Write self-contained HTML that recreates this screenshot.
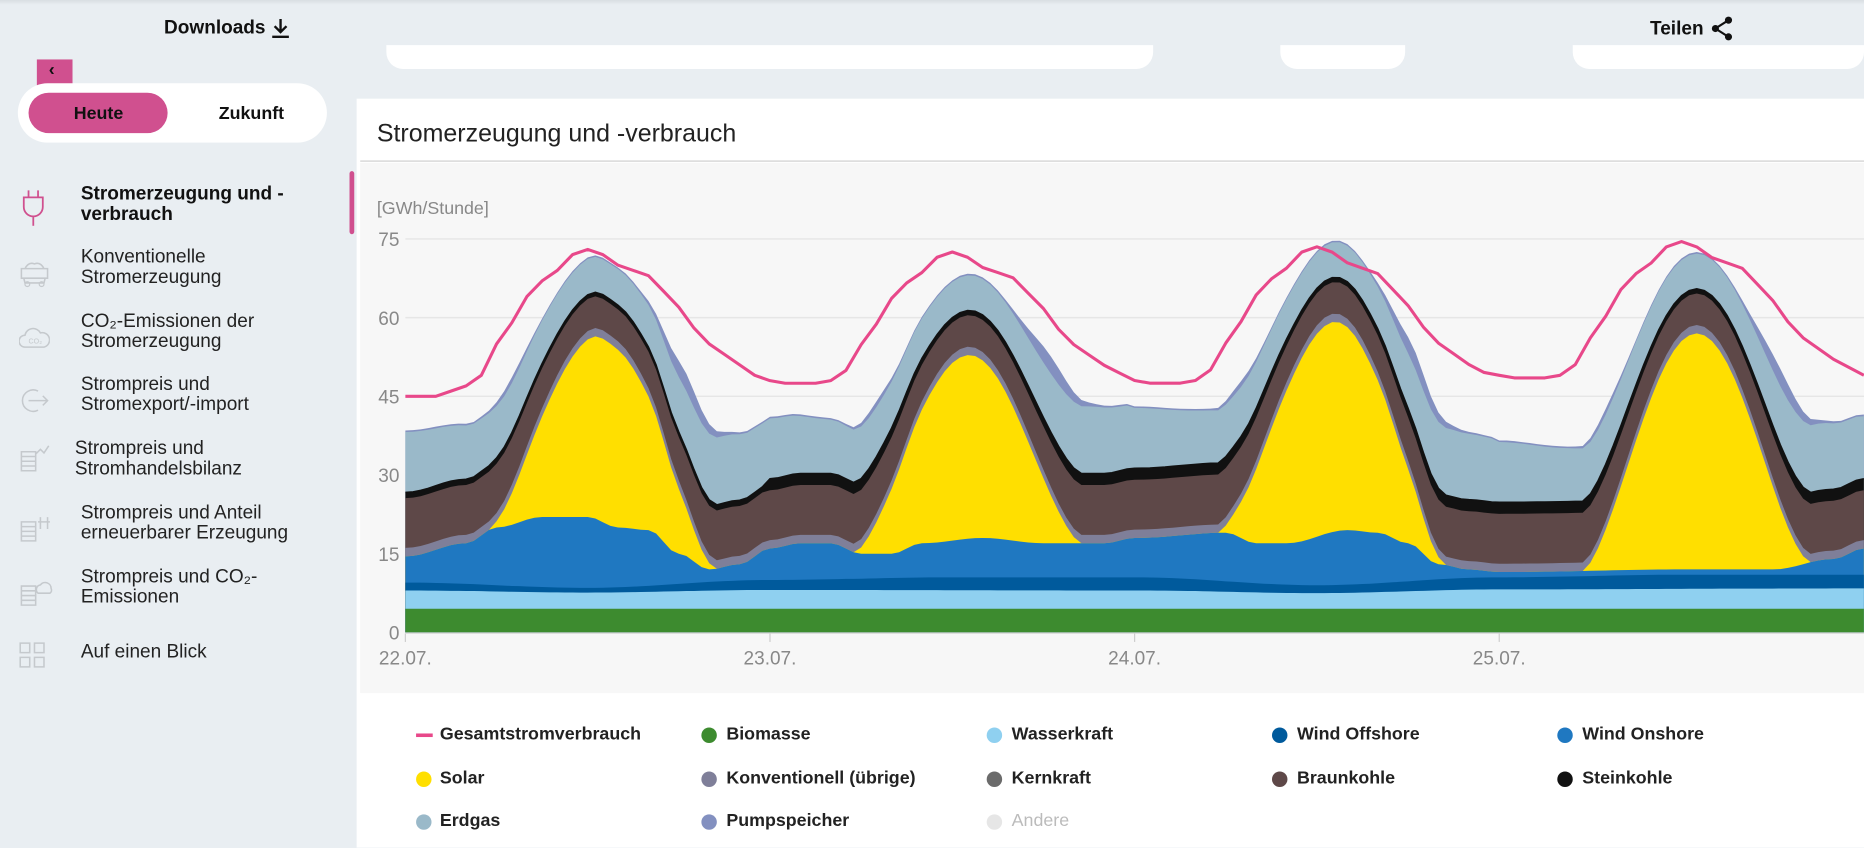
<!DOCTYPE html>
<html><head><meta charset="utf-8">
<style>
html,body{margin:0;padding:0;width:1864px;height:848px;overflow:hidden;background:#e9eef2;}
#wrap{position:absolute;left:0;top:0;width:1568px;height:713px;transform:scale(1.18878);transform-origin:0 0;font-family:"Liberation Sans Narrow","Liberation Sans",sans-serif;color:#111;}
.abs{position:absolute;}
.menu{position:absolute;left:68px;font-size:16px;line-height:17px;color:#222;}
.menu.b{font-weight:bold;color:#111;}
.leg{position:absolute;font-size:15px;font-weight:bold;color:#222;}
.dot{position:absolute;width:13px;height:13px;border-radius:50%;}
</style></head><body>
<div id="wrap">
  <div class="abs" style="left:0;top:0;width:1568px;height:4px;background:linear-gradient(#d9dee2,#e9eef2)"></div>
  <div class="abs" style="left:138px;top:15px;font-size:16px;font-weight:bold;">Downloads</div>
  <svg class="abs" style="left:226px;top:14px" width="20" height="20" viewBox="0 0 20 20"><path d="M10 2v11M5 8l5 5 5-5M3 17h14" stroke="#111" stroke-width="2" fill="none"/></svg>
  <div class="abs" style="left:1388px;top:16px;font-size:16px;font-weight:bold;">Teilen</div>
  <svg class="abs" style="left:1438px;top:13px" width="22" height="22" viewBox="0 0 22 22"><circle cx="16" cy="4" r="3" fill="#111"/><circle cx="5" cy="11" r="3" fill="#111"/><circle cx="16" cy="18" r="3" fill="#111"/><path d="M16 4L5 11L16 18" stroke="#111" stroke-width="1.8" fill="none"/></svg>

  <div class="abs" style="left:325px;top:38px;width:645px;height:20px;background:#fff;border-radius:0 0 14px 14px"></div>
  <div class="abs" style="left:1077px;top:38px;width:105px;height:20px;background:#fff;border-radius:0 0 14px 14px"></div>
  <div class="abs" style="left:1323px;top:38px;width:245px;height:20px;background:#fff;border-radius:0 0 14px 14px"></div>

  <div class="abs" style="left:31px;top:50px;width:30px;height:32px;background:#d0508f"></div>
  <div class="abs" style="left:41px;top:50px;font-size:15px;font-weight:bold">‹</div>
  <div class="abs" style="left:15px;top:70px;width:260px;height:50px;background:#fff;border-radius:25px"></div>
  <div class="abs" style="left:24px;top:78px;width:117px;height:34px;background:#d0508f;border-radius:17px"></div>
  <div class="abs" style="left:62px;top:87px;font-size:15px;font-weight:bold">Heute</div>
  <div class="abs" style="left:184px;top:87px;font-size:15px;font-weight:bold">Zukunft</div>

  <div class="abs" style="left:294px;top:144px;width:4px;height:53px;background:#d0508f;border-radius:2px"></div>
  <svg class="abs" style="left:17px;top:160px" width="22" height="30" viewBox="0 0 22 30"><path d="M7 0v6M15 0v6M3 6h16v8a8 8 0 0 1-16 0zM11 22v8" stroke="#d0508f" stroke-width="1.5" fill="none"/></svg>
  <div class="menu b" style="top:155px">Stromerzeugung und -<br>verbrauch</div>
  <svg class="abs" style="left:16px;top:218px" width="26" height="24"><path d="M2 8h22v8H2zM4 16h18l-1 4H5zM5 8q3-6 8-4q5-2 8 4" stroke="#c5c9cd" stroke-width="1.3" fill="none"/><circle cx="7" cy="21" r="2" stroke="#c5c9cd" fill="none"/><circle cx="19" cy="21" r="2" stroke="#c5c9cd" fill="none"/></svg>
  <div class="menu" style="top:208px">Konventionelle<br>Stromerzeugung</div>
  <svg class="abs" style="left:16px;top:274px" width="26" height="20"><path d="M5 18a5 5 0 0 1 0-10a7 7 0 0 1 13-2a6 6 0 0 1 3 12z" stroke="#c5c9cd" stroke-width="1.3" fill="none"/><text x="8" y="15" font-size="6" fill="#c5c9cd">CO₂</text></svg>
  <div class="menu" style="top:262px">CO₂-Emissionen der<br>Stromerzeugung</div>
  <svg class="abs" style="left:16px;top:326px" width="26" height="22"><path d="M16 3a9 9 0 1 0 0 16M8 11h16M20 7l4 4-4 4" stroke="#c5c9cd" stroke-width="1.3" fill="none"/></svg>
  <div class="menu" style="top:315px">Strompreis und<br>Stromexport/-import</div>
  <svg class="abs" style="left:16px;top:372px" width="30" height="26"><path d="M2 8h12v16H2zM2 12h12M2 16h12M2 20h12M14 10l4-4 3 3 4-6" stroke="#c5c9cd" stroke-width="1.3" fill="none"/></svg>
  <div class="menu" style="top:369px;left:63px">Strompreis und<br>Stromhandelsbilanz</div>
  <svg class="abs" style="left:16px;top:431px" width="30" height="26"><path d="M2 8h12v16H2zM2 12h12M2 16h12M2 20h12M18 4v10M24 4v10M16 8h10" stroke="#c5c9cd" stroke-width="1.3" fill="none"/></svg>
  <div class="menu" style="top:423px">Strompreis und Anteil<br>erneuerbarer Erzeugung</div>
  <svg class="abs" style="left:16px;top:485px" width="30" height="26"><path d="M2 8h12v16H2zM2 12h12M2 16h12M2 20h12M16 14a4 4 0 0 1 2-7a5 5 0 0 1 9 3a3 3 0 0 1-1 4z" stroke="#c5c9cd" stroke-width="1.3" fill="none"/></svg>
  <div class="menu" style="top:477px">Strompreis und CO₂-<br>Emissionen</div>
  <svg class="abs" style="left:16px;top:540px" width="22" height="22"><path d="M1 1h8v8H1zM13 1h8v8h-8zM1 13h8v8H1zM13 13h8v8h-8z" stroke="#c5c9cd" stroke-width="1.3" fill="none"/></svg>
  <div class="menu" style="top:540px">Auf einen Blick</div>

  <div class="abs" style="left:300px;top:83px;width:1268px;height:630px;background:#fff"></div>
  <div class="abs" style="left:317px;top:101px;font-size:21px;color:#222">Stromerzeugung und -verbrauch</div>
  <div class="abs" style="left:303px;top:135px;width:1265px;height:1px;background:#cfcfcf"></div>
  <div class="abs" style="left:303px;top:137px;width:1265px;height:446px;background:#f7f7f7"></div>

  <svg id="ch" class="abs" style="left:0;top:0" width="1568" height="713"></svg>

  <div class="abs" style="left:350px;top:617px;width:14px;height:2.5px;background:#e8488a"></div>
  <div class="leg" style="left:370px;top:609px">Gesamtstromverbrauch</div>
  <div class="dot" style="left:590px;top:612px;background:#3d8b2f"></div><div class="leg" style="left:611px;top:609px">Biomasse</div>
  <div class="dot" style="left:830px;top:612px;background:#8fd0f0"></div><div class="leg" style="left:851px;top:609px">Wasserkraft</div>
  <div class="dot" style="left:1070px;top:612px;background:#005a9c"></div><div class="leg" style="left:1091px;top:609px">Wind Offshore</div>
  <div class="dot" style="left:1310px;top:612px;background:#1f78c1"></div><div class="leg" style="left:1331px;top:609px">Wind Onshore</div>
  <div class="dot" style="left:350px;top:649px;background:#ffdf00"></div><div class="leg" style="left:370px;top:646px">Solar</div>
  <div class="dot" style="left:590px;top:649px;background:#7f7f99"></div><div class="leg" style="left:611px;top:646px">Konventionell (übrige)</div>
  <div class="dot" style="left:830px;top:649px;background:#6b6b6b"></div><div class="leg" style="left:851px;top:646px">Kernkraft</div>
  <div class="dot" style="left:1070px;top:649px;background:#5e4848"></div><div class="leg" style="left:1091px;top:646px">Braunkohle</div>
  <div class="dot" style="left:1310px;top:649px;background:#111"></div><div class="leg" style="left:1331px;top:646px">Steinkohle</div>
  <div class="dot" style="left:350px;top:685px;background:#9ab9c9"></div><div class="leg" style="left:370px;top:682px">Erdgas</div>
  <div class="dot" style="left:590px;top:685px;background:#8390c0"></div><div class="leg" style="left:611px;top:682px">Pumpspeicher</div>
  <div class="dot" style="left:830px;top:685px;background:#e6e6e6"></div><div class="leg" style="left:851px;top:682px;color:#bbb;font-weight:normal">Andere</div>
</div>
<script>
(function(){
var svg=document.getElementById('ch'),NS='http://www.w3.org/2000/svg';
function el(n,a,t){var e=document.createElementNS(NS,n);for(var k in a)e.setAttribute(k,a[k]);if(t)e.textContent=t;svg.appendChild(e);return e;}
var X0=341,PX=12.78,Y0=532,PY=66.2/15;
function X(h){return X0+h*PX;} function Y(v){return Y0-v*PY;}
el('text',{x:317,y:180,'font-size':15,fill:'#888','font-family':'Liberation Sans Narrow, Liberation Sans, sans-serif'},'[GWh/Stunde]');
[0,15,30,45,60,75].forEach(function(v){
  if(v>0)el('line',{x1:341,x2:1568,y1:Y(v),y2:Y(v),stroke:'#e6e6e6','stroke-width':1.2});
  el('text',{x:336,y:Y(v)+6,'font-size':16,fill:'#888','text-anchor':'end','font-family':'Liberation Sans Narrow, Liberation Sans, sans-serif'},String(v));
});
function interp(kp,h){for(var i=0;i<kp.length-1;i++){if(h>=kp[i][0]&&h<=kp[i+1][0]){var f=(h-kp[i][0])/(kp[i+1][0]-kp[i][0]);f=(1-Math.cos(f*Math.PI))/2;return kp[i][1]+f*(kp[i+1][1]-kp[i][1]);}}return kp[kp.length-1][1];}
var on=[[0,14.5],[4,17],[6,20],[9,22],[12,22],[14,20],[16,19.5],[18,15],[20,12],[22,13],[24,16],[26,17],[28,17],[30,15],[32,15],[34,17],[38,18],[42,17],[46,17],[48,18],[54,19],[56,17],[58,17],[62,19.5],[64,19],[66,17],[68,13],[70,12],[72,11.5],[76,11],[84,12],[90,12],[94,14],[96,16]];
var off=[[0,9.5],[12,8.5],[24,10],[36,10.5],[48,10.5],[60,9],[72,10.5],[84,11],[96,11]];
var hyd=[[0,8],[12,7.6],[24,8.1],[48,8],[60,7.5],[72,8.2],[96,8.4]];
var peaks=[35,35,40,45],cpk=[73,72.5,73.5,73.5];
var cshape0=[45,45,45,46,47,49,55,59,64,67,69,72,73,72,70,69,68,65,62,58,55,53,51,49,48];
var cshape1=[48,47.5,47.5,47.5,48,50,55,59,64,67,69,72,73,72,70,69,68,65,62,58,55,53,51,49.5,48];
function s(t){return (t<5.5||t>20.5)?0:Math.pow(Math.sin(Math.PI*(t-5.5)/15),1.5);}
var cols=['#3d8b2f','#8fd0f0','#005a9c','#1f78c1','#ffdf00','#7f7f99','#5e4848','#111111','#9ab9c9','#8390c0'];
var N=192,tops=[],cons=[];
for(var i=0;i<=N;i++){
  var h=i*96/N,d=Math.min(3,Math.floor(h/24)),t=h-d*24,sv=s(t);
  var a=[];a[0]=4.5;a[1]=interp(hyd,h);a[2]=interp(off,h);a[3]=Math.max(a[2]+1,interp(on,h));
  a[4]=a[3]+peaks[d]*sv;
  a[5]=a[4]+1.6;
  a[6]=a[5]+9.5-3.5*sv;
  var st=(d==0?0.8:0.9)+(d==0?0.3:1.3)*(1-sv);
  a[7]=a[6]+st;
  var eg=10-3.3*sv+2.5*Math.exp(-Math.pow((t-20)/3,2))+1.5*Math.exp(-Math.pow((t-0)/3,2))+1.5*Math.exp(-Math.pow((t-24)/3,2));
  a[8]=a[7]+eg;
  var ps=0.3+3*Math.exp(-Math.pow((t-18.5)/1.8,2))+0.8*Math.exp(-Math.pow((t-7)/1.2,2));
  a[9]=a[8]+ps;
  tops.push(a);
  var cs=d==0?cshape0:cshape1;
  var ti=Math.floor(t),tf=t-ti,cv=cs[ti]+(cs[Math.min(24,ti+1)]-cs[ti])*tf;
  cv=cv+(cv-47)*(cpk[d]-73)/26;
  if(d==3)cv+=1;
  cons.push(cv);
}
for(var L=9;L>=0;L--){
  var p='M'+X(0)+' '+Y0;
  for(var i=0;i<=N;i++)p+='L'+X(i*96/N).toFixed(1)+' '+Y(tops[i][L]).toFixed(1);
  p+='L'+X(96)+' '+Y0+'Z';
  el('path',{d:p,fill:cols[L]});
}
var p='';for(var i=0;i<=N;i++)p+=(i?'L':'M')+X(i*96/N).toFixed(1)+' '+Y(tops[i][7]).toFixed(1);
el('path',{d:p,fill:'none',stroke:'#111','stroke-width':1.2});
p='';for(var i=0;i<=N;i+=2)p+=(i?'L':'M')+X(i*96/N).toFixed(1)+' '+Y(cons[i]).toFixed(1);
el('path',{d:p,fill:'none',stroke:'#e8488a','stroke-width':2.6,'stroke-linejoin':'round'});
el('line',{x1:341,x2:1568,y1:532.5,y2:532.5,stroke:'#cfcfcf','stroke-width':1});
['22.07.','23.07.','24.07.','25.07.'].forEach(function(l,k){var x=X(k*24);
  el('line',{x1:x,x2:x,y1:533,y2:540,stroke:'#ccc','stroke-width':1});
  el('text',{x:x,y:559,'font-size':16,fill:'#888','text-anchor':'middle','font-family':'Liberation Sans Narrow, Liberation Sans, sans-serif'},l);});
})();
</script>
</body></html>
